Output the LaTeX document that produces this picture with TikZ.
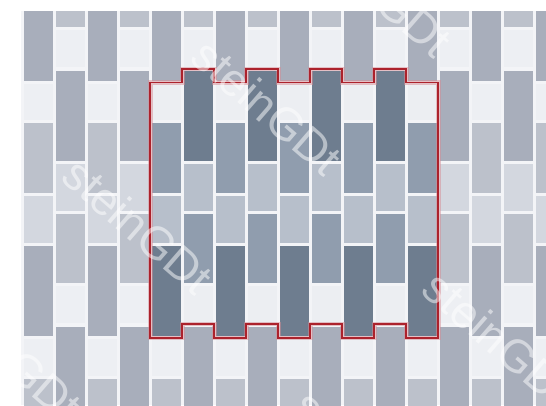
\documentclass[tikz,border=0pt]{standalone}
\usepackage{fontspec}
\newfontfamily\wmfont{Liberation Sans}
\begin{document}
\begin{tikzpicture}[x=1pt,y=-1pt,
  outline/.style={draw={rgb,255:red,172;green,34;blue,44},line width=1.9pt,line join=miter},
  halo/.style={draw={rgb,255:red,215;green,140;blue,148},line width=4.2pt,opacity=0.5},
  watermark/.style={rotate=-41,text=white,opacity=0.5,inner sep=0pt,
    font=\wmfont\fontsize{46}{46}\selectfont}]
\definecolor{gapc}{RGB}{243,244,247}
% outside colours
\definecolor{oT}{RGB}{168,174,187}
\definecolor{oS}{RGB}{188,193,203}
\definecolor{oL}{RGB}{211,215,223}
\definecolor{oW}{RGB}{237,239,243}
% inside colours
\definecolor{iT}{RGB}{110,125,143}
\definecolor{iS}{RGB}{144,157,174}
\definecolor{iL}{RGB}{183,191,203}
\definecolor{iW}{RGB}{236,238,242}
\useasboundingbox (0,0) rectangle (546,405);
\fill[white] (0,0) rectangle (546,405);
\fill[gapc] (21,10.5) rectangle (546,405);
\begin{scope}
\clip (21,11.5) rectangle (546,405);
\foreach \k in {0,...,16} {
  \pgfmathsetmacro\xl{24+32*\k}
  \pgfmathsetmacro\xr{\xl+28.8}
  \ifodd\k
    \foreach \a/\b/\c in {-43/27/S,30/67/W,70.5/160.5/T,163.5/210.5/L,213.5/283/S,286/323/W,326.5/416.5/T} {
      \pgfmathtruncatemacro\ins{(\k>3)&&(\k<13)&&(\a>60)&&(\b<345)}
      \ifnum\ins=1 \edef\col{i\c}\else\edef\col{o\c}\fi
      \fill[fill=\col] (\xl,\a) rectangle (\xr,\b);
    }
  \else
    \foreach \a/\b/\c in {-10/80.5/T,83.5/119.5/W,123/193/S,196/243/L,246/336/T,339/376/W,379/449/S} {
      \pgfmathtruncatemacro\ins{(\k>3)&&(\k<13)&&(\a>60)&&(\b<345)}
      \ifnum\ins=1 \edef\col{i\c}\else\edef\col{o\c}\fi
      \fill[fill=\col] (\xl,\a) rectangle (\xr,\b);
    }
  \fi
}
\end{scope}
% red outline of the marked area
\path[halo] (150.4,82.5) -| (182.4,68.8) -| (214.4,82.5) -| (246.4,68.8) -| (278.4,82.5)
  -| (310.4,68.8) -| (342.4,82.5) -| (374.4,68.8) -| (406.4,82.5) -| (438.4,338)
  -| (406.4,324) -| (374.4,338) -| (342.4,324) -| (310.4,338) -| (278.4,324)
  -| (246.4,338) -| (214.4,324) -| (182.4,338) -| (150.4,82.5) -- cycle;
\path[outline] (150.4,82.5) -| (182.4,68.8) -| (214.4,82.5) -| (246.4,68.8) -| (278.4,82.5)
  -| (310.4,68.8) -| (342.4,82.5) -| (374.4,68.8) -| (406.4,82.5) -| (438.4,338)
  -| (406.4,324) -| (374.4,338) -| (342.4,324) -| (310.4,338) -| (278.4,324)
  -| (246.4,338) -| (214.4,324) -| (182.4,338) -| (150.4,82.5) -- cycle;
% watermark
\begin{scope}
\clip (21,11.5) rectangle (546,405);
\node[watermark] (wm1) at (267,107) {steinGDt};
\node[watermark] (wm2) at (138,226) {steinGDt};
\node[watermark] (wm3) at (498,339) {steinGDt};
\node[watermark] (wm4) at (7,354) {steinGDt};
\node[watermark] (wm5) at (377,-11) {steinGDt};
\node[watermark] (wm6) at (369,458) {steinGDt};
\end{scope}
\end{tikzpicture}
\end{document}
